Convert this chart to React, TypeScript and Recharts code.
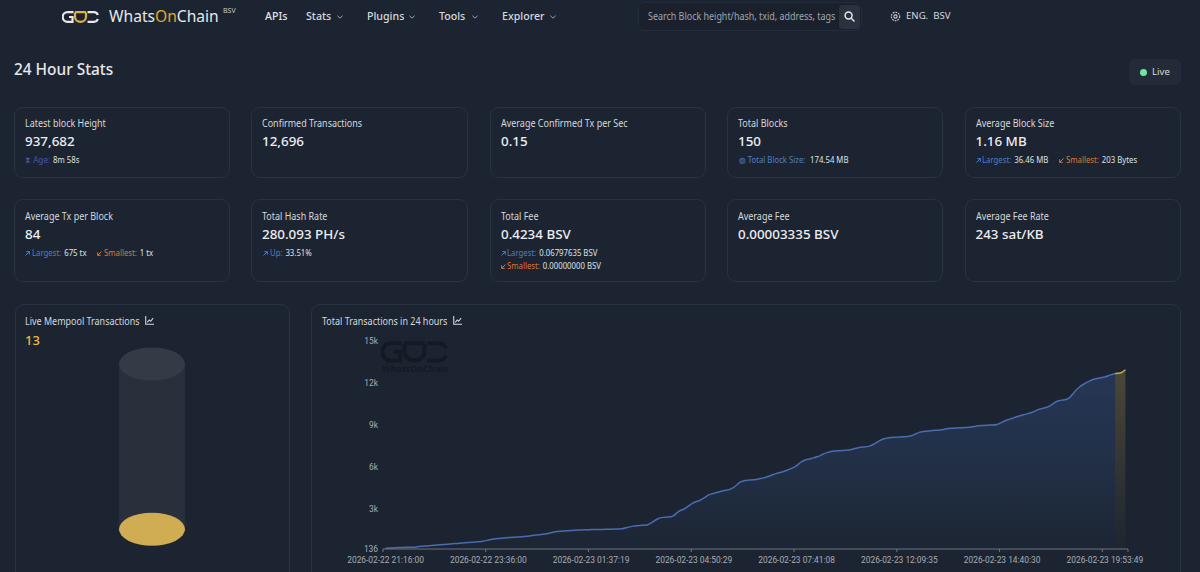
import { Area, AreaChart, Bar, BarChart, XAxis, YAxis } from "recharts";

// cumulative confirmed transactions, one reading per block band
const totalTx = [
  193, 207, 222, 243, 257, 265, 279, 329, 350, 386, 422, 450, 479, 508, 536, 565, 593, 622, 651, 686,
  779, 851, 886, 922, 951, 979, 1001, 1029, 1065, 1122, 1158, 1194, 1279, 1372, 1408, 1437, 1465, 1479, 1494, 1508,
  1522, 1529, 1537, 1544, 1551, 1558, 1572, 1672, 1758, 1808, 1830, 1837, 2065, 2330, 2408, 2416, 2437, 2866, 2944, 3209,
  3495, 3552, 3780, 4052, 4116, 4238, 4331, 4374, 4566, 4960, 5045, 5067, 5088, 5174, 5260, 5388, 5531, 5617, 5746, 5889,
  6067, 6424, 6532, 6625, 6710, 6889, 7053, 7139, 7168, 7182, 7189, 7282, 7382, 7425, 7446, 7604, 7868, 8032, 8097, 8125,
  8140, 8154, 8175, 8318, 8511, 8554, 8583, 8618, 8640, 8711, 8768, 8783, 8797, 8818, 8840, 8926, 8969, 8983, 8997, 8997,
  9211, 9354, 9476, 9604, 9712, 9812, 9905, 10119, 10190, 10269, 10569, 10748, 10784, 10841, 11355, 11712, 11955, 12141, 12298, 12370,
  12406, 12570, 12670, 12713, 12949,
];
const highlightFrom = 142;
const xTickIndexes = [0, 20, 40, 60, 80, 100, 120, 140, 144];
const xTickLabels = [
  "2026-02-22 21:16:00",
  "2026-02-22 23:36:00",
  "2026-02-23 01:37:19",
  "2026-02-23 04:50:29",
  "2026-02-23 07:41:08",
  "2026-02-23 12:09:35",
  "2026-02-23 14:40:30",
  "2026-02-23 19:53:49",
];
const yTicks = [136, 3000, 6000, 9000, 12000, 15000];
const mempoolValue = [13];
const mempoolMax = 10000;

const navItems = ["Stats", "Plugins", "Tools", "Explorer"];

const BG = "#1c2431";
const BORDER = "#293241";
const FONT = "'Noto Sans', sans-serif";
const halfBand = 2.57;

const chartData = totalTx.map((v, i) => ({
  i,
  base: i <= highlightFrom ? v : null,
  recent: i >= highlightFrom ? v : null,
}));

function T({ x, y, size = 11, color = "#d5d9df", weight = 400, children, sx = 1, spacing = 0 }: any) {
  return (
    <div
      style={{
        position: "absolute",
        left: x,
        top: y,
        fontSize: size,
        color,
        fontWeight: weight,
        letterSpacing: spacing,
        whiteSpace: "nowrap",
        lineHeight: 1,
        transform: `translateY(-50%) scaleX(${sx})`,
        transformOrigin: "left center",
      }}
    >
      {children}
    </div>
  );
}

function Box({ x, y, w, h, r = 9, bg, border = BORDER }: any) {
  return (
    <div
      style={{
        position: "absolute",
        left: x,
        top: y,
        width: w,
        height: h,
        boxSizing: "border-box",
        borderRadius: r,
        border: border === "none" ? "none" : `1px solid ${border}`,
        background: bg,
      }}
    />
  );
}

function Logo({ x, y, w, left, mid }: any) {
  return (
    <svg viewBox="0 0 37 12" style={{ position: "absolute", left: x, top: y, width: w, height: (w * 12) / 37 }} fill="none" strokeWidth={2.2}>
      <path d="M11.5 1.2H5.5a4.6 4.6 0 0 0 0 9.6h5V6H7" stroke={left} />
      <path d="M13 1.5v4.5a5.5 4.8 0 0 0 11 0V1.5M13 1.2h11" stroke={mid} />
      <path d="M25.5 1.2h6.5a4 4 0 0 1 3.8 2.8M25.5 10.8H32a4 4 0 0 0 3.8-2.8" stroke={left} />
    </svg>
  );
}

function ChartIcon({ x, y }: any) {
  return (
    <svg viewBox="0 0 10 10" style={{ position: "absolute", left: x, top: y, width: 9, height: 9 }} fill="none" stroke="#d5d9df" strokeWidth={1.2}>
      <path d="M.8 0v9.2H10M2.5 7l2.2-2.6 1.6 1.4L9 2.4" />
    </svg>
  );
}

function Chevron({ x, y }: any) {
  return (
    <svg viewBox="0 0 8 5" style={{ position: "absolute", left: x, top: y, width: 6, height: 4 }} fill="none" stroke="#aab0b9" strokeWidth={1.2}>
      <path d="M.5.8 4 4 7.5.8" />
    </svg>
  );
}

function Arrow({ x, y, up }: any) {
  return (
    <svg viewBox="0 0 6 6" style={{ position: "absolute", left: x, top: y, width: 5, height: 5 }} fill="none" stroke={up ? "#4f7fc4" : "#d9773a"} strokeWidth={1.2}>
      <path d={up ? "M.6 5.4 5.2.8M1.6.8h3.6v3.6" : "M5.4.6.8 5.2M.8 1.6v3.6h3.6"} />
    </svg>
  );
}

const BLUE = "#4f7fc4";
const ORANGE = "#d9773a";

function Sub({ x, y, label, value, color, up }: any) {
  return (
    <>
      <Arrow x={x} y={y - 2.5} up={up} />
      <T x={x + 6.5} y={y} size={8.2} color={color} sx={0.95}>
        {label}
        <span style={{ marginLeft: 3, color: "#dfe2e7" }}>{value}</span>
      </T>
    </>
  );
}

const columns = [14, 251, 490, 727, 964.5];
const cardWidths = [216, 216.5, 215.5, 216, 216];
const row1Titles = ["Latest block Height", "Confirmed Transactions", "Average Confirmed Tx per Sec", "Total Blocks", "Average Block Size"];
const row1Values = ["937,682", "12,696", "0.15", "150", "1.16 MB"];
const row2Titles = ["Average Tx per Block", "Total Hash Rate", "Total Fee", "Average Fee", "Average Fee Rate"];
const row2Values = ["84", "280.093 PH/s", "0.4234 BSV", "0.00003335 BSV", "243 sat/KB"];

function XTick({ x, y, payload }: any) {
  const idx = xTickIndexes.indexOf(payload.value);
  const isLast = payload.value === xTickIndexes[xTickIndexes.length - 1];
  const tickX = isLast ? x + halfBand : x - halfBand;
  return (
    <g>
      <line x1={tickX} x2={tickX} y1={y - 8} y2={y - 5} stroke="#6e7480" />
      {!isLast && (
        <text x={x} y={y + 6} textAnchor="middle" fontSize={8.4} fontFamily="Roboto" fill="#a9adb4">
          {xTickLabels[idx]}
        </text>
      )}
    </g>
  );
}

function TankBody({ x, y, width, height }: any) {
  return (
    <g>
      <rect x={x} y={y} width={width} height={height} fill="#2a303b" />
      <ellipse cx={x + width / 2} cy={y} rx={width / 2} ry={16.5} fill="#343b47" />
    </g>
  );
}

function TankLevel({ x, y, width }: any) {
  return <ellipse cx={x + width / 2} cy={y} rx={width / 2} ry={16.5} fill="#d0ac52" />;
}

export default function App() {
  return (
    <div style={{ position: "fixed", inset: 0, width: 1200, height: 572, background: BG, overflow: "hidden", fontFamily: FONT }}>
      {/* header */}
      <Logo x={62} y={10.5} w={37} left="#e8e8e8" mid="#e0b13c" />
      <T x={109} y={17} size={15.6} color="#e6e8eb">
        Whats<span style={{ color: "#e0a92e" }}>On</span>Chain
      </T>
      <T x={223} y={10} size={7} color="#c5c9cf">BSV</T>
      <T x={265} y={16} size={11.2} color="#e3e5e9" weight={500} sx={0.95}>APIs</T>
      {navItems.map((n, i) => (
        <T key={n} x={[306, 367, 439, 502][i]} y={16} size={11.2} color="#d5d9df" weight={500} sx={0.95}>{n}</T>
      ))}
      {[337, 409, 471.5, 549.5].map((x) => <Chevron key={x} x={x} y={15} />)}

      <Box x={638} y={2} w={224} h={29} r={7} bg="#1a212d" border="#232c3a" />
      <T x={648} y={16} size={10.4} color="#a0a7b1" sx={0.86}>Search Block height/hash, txid, address, tags</T>
      <Box x={839} y={5} w={21} h={24} r={4} bg="#2a323f" border="none" />
      <svg viewBox="0 0 12 12" style={{ position: "absolute", left: 844, top: 10.5, width: 11, height: 11 }} fill="none" stroke="#e8eaee" strokeWidth={1.6}>
        <circle cx={5} cy={5} r={3.8} />
        <path d="M8 8l3.4 3.4" />
      </svg>
      <svg viewBox="0 0 12 12" style={{ position: "absolute", left: 890, top: 11, width: 11, height: 11 }} fill="none" stroke="#c9cdd3" strokeWidth={1.2}>
        <circle cx={6} cy={6} r={1.8} />
        <circle cx={6} cy={6} r={4.6} strokeDasharray="2 1" />
      </svg>
      <T x={906} y={16} size={9.6} color="#d5d9df">ENG.&nbsp; BSV</T>

      <T x={14} y={70} size={15.4} color="#e6e8eb" weight={500}>24 Hour Stats</T>
      <Box x={1129} y={59} w={52} h={26} r={6} bg="#232b38" border="none" />
      <div style={{ position: "absolute", left: 1140, top: 68.5, width: 7, height: 7, borderRadius: 4, background: "#6ee7a0" }} />
      <T x={1152} y={72} size={9.6} color="#d5d9df">Live</T>

      {/* stat cards */}
      {columns.map((x, i) => (
        <div key={x}>
          <Box x={x} y={107} w={cardWidths[i]} h={71} />
          <T x={x + 11} y={123} size={10.2} color="#d5d9df" sx={0.88}>{row1Titles[i]}</T>
          <T x={x + 11} y={142} size={13.4} color="#eceef1" weight={500}>{row1Values[i]}</T>
          <Box x={x} y={199} w={cardWidths[i]} h={83} />
          <T x={x + 11} y={216} size={10.2} color="#d5d9df" sx={0.88}>{row2Titles[i]}</T>
          <T x={x + 11} y={235} size={13.4} color="#eceef1" weight={500}>{row2Values[i]}</T>
        </div>
      ))}

      <T x={25} y={160} size={8.2} color="#4a55a8">⧗ Age:</T>
      <T x={53} y={160} size={8.2} color="#dfe2e7" sx={0.95}>8m 58s</T>
      <T x={739} y={160} size={8.2} color={BLUE} sx={0.95}>◍ Total Block Size:</T>
      <T x={810} y={160} size={8.2} color="#dfe2e7" sx={0.95}>174.54 MB</T>
      <Sub x={975.5} y={160} label="Largest:" value="36.46 MB" color={BLUE} up />
      <Sub x={1059} y={160} label="Smallest:" value="203 Bytes" color={ORANGE} />
      <Sub x={25} y={253} label="Largest:" value="675 tx" color={BLUE} up />
      <Sub x={97} y={253} label="Smallest:" value="1 tx" color={ORANGE} />
      <Sub x={263} y={253} label="Up:" value="33.51%" color={BLUE} up />
      <Sub x={500.5} y={253} label="Largest:" value="0.06797635 BSV" color={BLUE} up />
      <Sub x={500.5} y={266} label="Smallest:" value="0.00000000 BSV" color={ORANGE} />

      {/* mempool */}
      <Box x={14.5} y={304} w={275} h={300} />
      <T x={25} y={321} size={10.2} sx={0.88}>Live Mempool Transactions</T>
      <ChartIcon x={145} y={316} />
      <T x={25} y={340} size={13} color="#f0b93a" weight={500}>{mempoolValue[0]}</T>
      <div style={{ position: "absolute", left: 100, top: 340 }}>
        <BarChart
          width={104}
          height={210}
          data={[{ name: "mempool", value: mempoolValue[0] }]}
          margin={{ top: 24, right: 19, bottom: 20.5, left: 19 }}
          barCategoryGap={0}
        >
          <XAxis dataKey="name" hide />
          <YAxis hide domain={[0, mempoolMax]} />
          <Bar dataKey="value" background={TankBody as any} shape={TankLevel as any} isAnimationActive={false} />
        </BarChart>
      </div>

      {/* total transactions */}
      <Box x={311} y={304} w={870} h={300} />
      <T x={322} y={321} size={10.2} sx={0.88}>Total Transactions in 24 hours</T>
      <ChartIcon x={453} y={316} />
      <Logo x={381} y={341} w={67} left="#141a24" mid="#141a24" />
      <T x={382} y={368} size={9} color="#141a24" weight={700}>WhatsOnChain</T>
      <div style={{ position: "absolute", left: 320, top: 330 }}>
        <AreaChart width={860} height={240} data={chartData} margin={{ top: 11, right: 52, bottom: 0, left: 0 }}>
          <defs>
            <linearGradient id="txFill" x1="0" y1="0" x2="0" y2="1">
              <stop offset="0%" stopColor="#3d66b0" stopOpacity={0.46} />
              <stop offset="55%" stopColor="#3d66b0" stopOpacity={0.27} />
              <stop offset="100%" stopColor="#3d66b0" stopOpacity={0.02} />
            </linearGradient>
            <linearGradient id="recentFill" x1="0" y1="0" x2="0" y2="1">
              <stop offset="0%" stopColor="#d4b04a" stopOpacity={0.42} />
              <stop offset="100%" stopColor="#d4b04a" stopOpacity={0.02} />
            </linearGradient>
          </defs>
          <XAxis
            dataKey="i"
            type="category"
            scale="point"
            padding={{ left: halfBand, right: halfBand }}
            ticks={xTickIndexes}
            interval={0}
            tick={XTick as any}
            tickLine={false}
            height={21}
            stroke="#6e7480"
          />
          <YAxis
            width={63}
            domain={[yTicks[0], yTicks[yTicks.length - 1]]}
            ticks={yTicks}
            interval={0}
            tickFormatter={(v: number) => (v >= 1000 ? `${v / 1000}k` : `${v}`)}
            tick={{ fontSize: 8.4, fontFamily: "Roboto", fill: "#a9adb4" }}
            tickLine={false}
            axisLine={false}
            tickSize={5}
            tickMargin={0}
          />
          <Area type="basis" dataKey="base" stroke="#4a6cb0" strokeWidth={1.5} fill="url(#txFill)" dot={false} isAnimationActive={false} />
          <Area type="monotone" dataKey="recent" stroke="#c8a84e" strokeWidth={1.5} fill="url(#recentFill)" dot={false} isAnimationActive={false} />
        </AreaChart>
      </div>
    </div>
  );
}
